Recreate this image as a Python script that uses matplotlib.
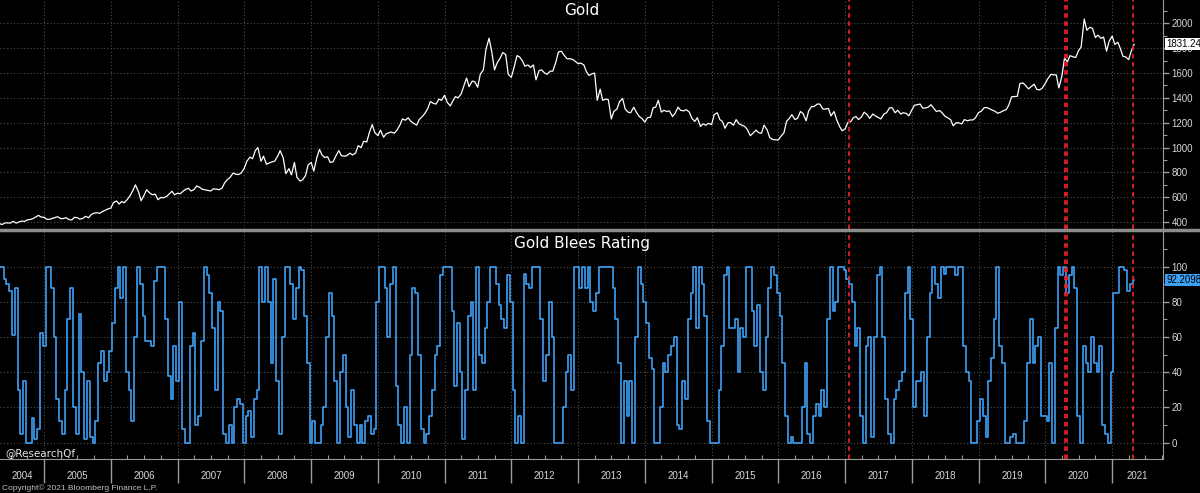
import numpy as np
import pandas as pd
import matplotlib
matplotlib.use("Agg")  # No GUI
import matplotlib.pyplot as plt
from matplotlib.lines import Line2D
from matplotlib.ticker import MultipleLocator

# Semi-monthly samples (1st and 15th), starting 2004-05-01
start = "2004-05-01"

gold_2004 = [388, 380, 393, 393, 392, 406, 391, 400, 408, 405, 418, 420, 428, 440, 454, 440]
gold_2005 = [438, 422, 422, 430, 436, 443, 428, 428, 435, 420, 417, 438, 435, 423, 430, 446,
             435, 460, 472, 475, 470, 485, 495, 505]
gold_2006 = [513, 557, 569, 545, 566, 555, 583, 610, 654, 700, 643, 572, 614, 660, 635, 620,
             624, 580, 598, 595, 606, 625, 648, 620]
gold_2007 = [632, 628, 650, 664, 672, 650, 662, 690, 680, 665, 659, 655, 650, 667, 665, 660,
             673, 715, 743, 760, 795, 785, 783, 795]
gold_2008 = [834, 890, 923, 910, 975, 1000, 890, 930, 865, 875, 885, 890, 930, 975, 915, 790,
             830, 780, 880, 760, 730, 740, 775, 860]
gold_2009 = [880, 810, 920, 985, 940, 920, 925, 880, 885, 930, 975, 935, 930, 935, 955, 940,
             955, 1015, 1000, 1050, 1045, 1120, 1185, 1120]
gold_2010 = [1096, 1140, 1083, 1110, 1118, 1125, 1115, 1140, 1180, 1230, 1220, 1240, 1210, 1195,
             1180, 1225, 1250, 1275, 1315, 1370, 1355, 1350, 1390, 1380]
gold_2011 = [1421, 1365, 1335, 1375, 1410, 1400, 1430, 1490, 1560, 1490, 1535, 1530, 1485, 1590,
             1625, 1790, 1880, 1780, 1625, 1680, 1720, 1765, 1750, 1590]
gold_2012 = [1565, 1640, 1740, 1730, 1700, 1655, 1665, 1645, 1665, 1545, 1620, 1625, 1600, 1590,
             1615, 1615, 1690, 1770, 1775, 1745, 1715, 1715, 1710, 1695]
gold_2013 = [1675, 1680, 1665, 1610, 1580, 1592, 1600, 1380, 1470, 1380, 1390, 1385, 1230, 1290,
             1310, 1370, 1395, 1310, 1285, 1280, 1325, 1285, 1250, 1235]
gold_2014 = [1205, 1240, 1245, 1320, 1325, 1380, 1285, 1300, 1290, 1295, 1250, 1275, 1325, 1300,
             1295, 1305, 1285, 1235, 1210, 1240, 1170, 1190, 1180, 1195]
gold_2015 = [1185, 1265, 1280, 1225, 1210, 1155, 1200, 1200, 1180, 1225, 1190, 1180, 1170, 1145,
             1095, 1115, 1140, 1120, 1115, 1180, 1142, 1080, 1065, 1062]
gold_2016 = [1061, 1090, 1120, 1210, 1235, 1265, 1225, 1235, 1290, 1275, 1215, 1295, 1330, 1330,
             1350, 1350, 1310, 1310, 1315, 1255, 1290, 1225, 1170, 1135]
gold_2017 = [1150, 1200, 1210, 1240, 1250, 1225, 1248, 1285, 1265, 1235, 1270, 1255, 1242, 1230,
             1270, 1280, 1320, 1320, 1280, 1300, 1270, 1280, 1275, 1255]
gold_2018 = [1303, 1340, 1345, 1350, 1318, 1318, 1325, 1345, 1315, 1290, 1298, 1280, 1252, 1240,
             1224, 1175, 1200, 1198, 1190, 1225, 1215, 1222, 1222, 1240]
gold_2019 = [1282, 1292, 1321, 1322, 1313, 1302, 1292, 1276, 1284, 1296, 1305, 1341, 1409, 1410,
             1413, 1515, 1520, 1500, 1472, 1490, 1510, 1468, 1464, 1478]
gold_2020 = [1517, 1555, 1589, 1585, 1585, 1480, 1577, 1720, 1690, 1740, 1730, 1725, 1780, 1810,
             2035, 1945, 1968, 1960, 1886, 1905, 1879, 1890, 1776, 1855]
gold_2021 = [1898, 1830, 1848, 1795, 1734, 1730, 1708, 1775, 1831.24]

gold = (gold_2004 + gold_2005 + gold_2006 + gold_2007 + gold_2008 + gold_2009 + gold_2010
        + gold_2011 + gold_2012 + gold_2013 + gold_2014 + gold_2015 + gold_2016 + gold_2017
        + gold_2018 + gold_2019 + gold_2020 + gold_2021)

rating = [
    100, 100, 93, 90, 86, 61, 88, 30, 5, 35,
    0, 0, 14, 2, 8, 62, 55, 100, 100, 88,
    60, 25, 12, 5, 30, 70, 88, 20, 5, 73,
    40, 2, 35, 3, 0, 12, 45, 52, 35, 40,
    52, 68, 88, 100, 82, 100, 40, 30, 12, 60,
    100, 90, 72, 58, 58, 55, 92, 100, 100, 100,
    70, 38, 25, 55, 35, 80, 8, 0, 0, 55,
    62, 10, 15, 58, 100, 95, 85, 65, 30, 80,
    75, 5, 0, 10, 0, 20, 25, 22, 0, 15,
    18, 3, 25, 30, 100, 80, 100, 80, 45, 93,
    35, 5, 60, 100, 100, 90, 70, 88, 100, 98,
    72, 45, 0, 12, 0, 0, 10, 20, 60, 85,
    72, 35, 0, 40, 50, 20, 3, 30, 10, 0,
    10, 0, 12, 15, 5, 8, 80, 100, 100, 88,
    60, 90, 100, 32, 10, 0, 20, 0, 50, 88,
    85, 50, 8, 0, 5, 15, 30, 50, 55, 95,
    100, 100, 100, 75, 32, 68, 40, 2, 30, 72,
    80, 30, 100, 50, 45, 65, 80, 100, 100, 90,
    78, 70, 65, 95, 80, 30, 0, 15, 0, 96,
    90, 88, 100, 100, 100, 70, 35, 50, 80, 60,
    0, 0, 0, 20, 40, 50, 30, 100, 100, 88,
    100, 88, 100, 80, 75, 85, 100, 100, 100, 100,
    100, 88, 70, 45, 0, 35, 15, 35, 0, 60,
    100, 90, 80, 68, 48, 42, 0, 0, 20, 45,
    40, 50, 55, 60, 10, 8, 35, 25, 70, 85,
    100, 65, 100, 90, 72, 12, 0, 0, 0, 30,
    55, 95, 100, 65, 65, 70, 40, 65, 60, 100,
    100, 75, 55, 78, 40, 30, 60, 88, 100, 95,
    85, 72, 45, 15, 0, 3, 0, 0, 0, 20,
    45, 5, 0, 15, 22, 15, 30, 20, 70, 100,
    75, 80, 100, 100, 98, 93, 90, 80, 55, 65,
    15, 0, 55, 60, 3, 60, 95, 100, 60, 25,
    5, 0, 25, 30, 35, 40, 85, 100, 70, 20,
    35, 35, 40, 15, 60, 85, 100, 90, 82, 100,
    96, 100, 100, 100, 95, 100, 100, 55, 40, 35,
    0, 0, 12, 25, 15, 3, 35, 48, 70, 100,
    55, 45, 0, 0, 3, 5, 0, 0, 0, 12,
    45, 70, 45, 55, 60, 15, 15, 12, 45, 0,
    65, 100, 95, 100, 85, 95, 100, 88, 15, 0,
    55, 45, 40, 60, 45, 40, 55, 10, 5, 0,
    40, 85, 85, 100, 100, 98, 86, 90, 92.2098,
]

event_dates = ["2017-01-20", "2020-04-20", "2020-05-01", "2021-04-26"]
gold_ticks = [400, 600, 800, 1000, 1200, 1400, 1600, 1800, 2000]
rating_ticks = [0, 20, 40, 60, 80, 100]
years = list(range(2004, 2022))

dates = pd.date_range(start, periods=len(gold), freq="SMS")
rating_dates = pd.date_range(start, periods=len(rating), freq="SMS")

BG = "black"
AXIS_GRAY = "#9a9a9a"
GRID_GRAY = "#4d4d4d"
LABEL = "#d8d8d8"
TICKFONT = ["Liberation Sans", "DejaVu Sans"]

xmin = pd.Timestamp("2004-05-04")
xmax = pd.Timestamp("2021-10-06")

fig = plt.figure(figsize=(12, 4.93), dpi=100, facecolor=BG)
ax1 = fig.add_axes([0, 264 / 493, 1163 / 1200, 229 / 493])
ax2 = fig.add_axes([0, 34 / 493, 1163 / 1200, 228 / 493])

year_starts = [pd.Timestamp(f"{y}-01-01") for y in years[1:]]
quarters = [pd.Timestamp(f"{y}-{m:02d}-01") for y in years for m in (4, 7, 10)
            if xmin < pd.Timestamp(f"{y}-{m:02d}-01") < xmax]

for ax in (ax1, ax2):
    ax.set_facecolor(BG)
    for s in ("left", "top"):
        ax.spines[s].set_visible(False)
    ax.spines["right"].set_color(AXIS_GRAY)
    ax.spines["bottom"].set_color(AXIS_GRAY)
    ax.set_xlim(xmin, xmax)
    ax.yaxis.tick_right()
    ax.set_xticks(year_starts)
    ax.set_xticks(quarters, minor=True)
    ax.grid(which="major", color=GRID_GRAY, ls=(0, (1, 2)), lw=0.8)
    ax.tick_params(axis="y", which="major", colors=AXIS_GRAY, labelcolor=LABEL,
                   length=4, width=1, labelsize=7, pad=2)
    ax.tick_params(axis="y", which="minor", colors=AXIS_GRAY, length=3, width=0.8)
    for d in event_dates:
        ax.axvline(pd.Timestamp(d), color="#e3202c", ls=(0, (2.5, 2)), lw=1.3, zorder=4)

# top panel: gold price
ax1.spines["bottom"].set_visible(False)
ax1.plot(dates, gold, color="white", lw=0.9, zorder=3)
ax1.set_ylim(344, 2188)
ax1.set_yticks(gold_ticks)
ax1.yaxis.set_minor_locator(MultipleLocator(100))
ax1.tick_params(axis="x", which="both", length=0, labelbottom=False)
for lbl in ax1.get_yticklabels():
    lbl.set_family(TICKFONT)
ax1.text(0.5, 1 - 3 / 229, "Gold", transform=ax1.transAxes, ha="center", va="top",
         color="white", fontsize=11)
ax1.text(1.003, gold[-1], f"{gold[-1]:.2f}", transform=ax1.get_yaxis_transform(),
         ha="left", va="center", fontsize=7, family=TICKFONT, color="black", zorder=6,
         bbox=dict(boxstyle="square,pad=0.12", fc="white", ec="none"))

# bottom panel: rating
ax2.plot(rating_dates, rating, color="#3ea0f5", lw=1.2, drawstyle="steps-mid", zorder=3)
ax2.set_ylim(-9.3, 120.2)
ax2.set_yticks(rating_ticks)
ax2.yaxis.set_minor_locator(MultipleLocator(10))
ax2.tick_params(axis="x", which="major", direction="out", length=17, width=1,
                colors=AXIS_GRAY, labelbottom=False)
ax2.tick_params(axis="x", which="minor", direction="in", length=3, width=0.8,
                colors=AXIS_GRAY)
for lbl in ax2.get_yticklabels():
    lbl.set_family(TICKFONT)
ax2.text(0.5, 1 - 5 / 228, "Gold Blees Rating", transform=ax2.transAxes, ha="center",
         va="top", color="white", fontsize=11)
ax2.text(1.003, rating[-1], f"{rating[-1]:.4f}", transform=ax2.get_yaxis_transform(),
         ha="left", va="center", fontsize=7, family=TICKFONT, color="black", zorder=6,
         bbox=dict(boxstyle="square,pad=0.12", fc="#3ea0f5", ec="none"))

# year labels centred in the visible part of each year
for y in years:
    left = max(pd.Timestamp(f"{y}-01-01"), xmin)
    right = min(pd.Timestamp(f"{y + 1}-01-01"), xmax)
    mid = left + (right - left) / 2
    ax2.text(mid, -17 / 228, str(y), transform=ax2.get_xaxis_transform(), ha="center",
             va="center", color=LABEL, fontsize=7, family=TICKFONT)

# separator between panels
fig.add_artist(Line2D([0, 1], [1 - 230 / 493] * 2, color="#8c8c8c", lw=2.5))

fig.text(5 / 1200, 1 - 453 / 493, "@ResearchQf", color="#e6e6e6", fontsize=7.5,
         va="center", ha="left")
fig.text(2 / 1200, 1 - 488 / 493, "Copyright\u00a9 2021 Bloomberg Finance L.P.",
         color="#c0c0c0", fontsize=6, family=TICKFONT, va="center", ha="left")

fig.savefig("out.png", dpi=100, facecolor=BG)
